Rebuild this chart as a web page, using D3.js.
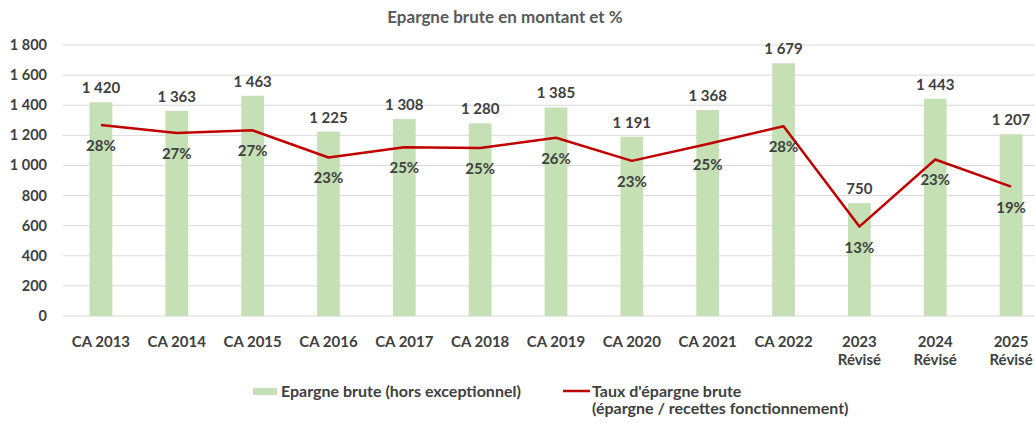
<!DOCTYPE html>
<html>
<head>
<meta charset="utf-8">
<script src="https://cdn.jsdelivr.net/npm/d3@7"></script>
<style>
  body { margin: 0; background: #fff; }
  svg { display: block; font-family: Lato, "Open Sans", sans-serif; }
</style>
</head>
<body>
<svg id="chart" width="1035" height="423"></svg>
<script>
// categories and series
const categories = ["CA 2013", "CA 2014", "CA 2015", "CA 2016", "CA 2017", "CA 2018", "CA 2019",
    "CA 2020", "CA 2021", "CA 2022", "2023\nRévisé", "2024\nRévisé", "2025\nRévisé"];
const epargne = [1420, 1363, 1463, 1225, 1308, 1280, 1385, 1191, 1368, 1679, 750, 1443, 1207];
const taux = [28.2, 27.0, 27.4, 23.4, 24.9, 24.8, 26.3, 22.9, 25.4, 28.0, 13.2, 23.1, 19.1];
const yTicks = [0, 200, 400, 600, 800, 1000, 1200, 1400, 1600, 1800];

const svg = d3.select("#chart");
const textColor = "#404040";
const fr = d3.formatLocale({ decimal: ",", thousands: "\u00a0", grouping: [3], currency: ["", " €"] });
const fmt = fr.format(",d");

// plot area (the right edge runs past the picture like in the original)
const plotLeft = 63, plotRight = 1049, plotTop = 45, plotBottom = 316;

const x = d3.scaleBand().domain(categories).range([plotLeft, plotRight]).paddingInner(0.7).paddingOuter(0.35);
const y = d3.scaleLinear().domain([0, 1800]).range([plotBottom, plotTop]);
// hidden secondary axis for the rate
const y2 = d3.scaleLinear().domain([0, 40]).range([plotBottom, plotTop]);

// title
svg.append("text")
    .attr("x", 505).attr("y", 23)
    .attr("text-anchor", "middle")
    .attr("font-size", 17).attr("font-weight", "bold")
    .attr("fill", "#595959")
    .text("Epargne brute en montant et %");

// gridlines
svg.append("g")
    .selectAll("line")
    .data(yTicks)
    .join("line")
    .attr("x1", plotLeft).attr("x2", 1035)
    .attr("y1", d => y(d)).attr("y2", d => y(d))
    .attr("stroke", "#d9d9d9").attr("stroke-width", 1);

// y axis labels
svg.append("g")
    .selectAll("text")
    .data(yTicks)
    .join("text")
    .attr("x", 47).attr("y", d => y(d) + 5)
    .attr("text-anchor", "end")
    .attr("font-size", 14.5).attr("font-weight", "bold")
    .attr("fill", textColor)
    .text(d => fmt(d));

// bars
svg.append("g")
    .selectAll("rect")
    .data(epargne)
    .join("rect")
    .attr("x", (d, i) => x(categories[i]))
    .attr("width", x.bandwidth())
    .attr("y", d => y(d))
    .attr("height", d => plotBottom - y(d))
    .attr("fill", "#c5e0b4");

// bar value labels
svg.append("g")
    .selectAll("text")
    .data(epargne)
    .join("text")
    .attr("x", (d, i) => x(categories[i]) + x.bandwidth() / 2)
    .attr("y", d => y(d) - 9)
    .attr("text-anchor", "middle")
    .attr("font-size", 15).attr("font-weight", "bold")
    .attr("fill", textColor)
    .text(d => fmt(d));

// rate line
const line = d3.line()
    .x((d, i) => x(categories[i]) + x.bandwidth() / 2)
    .y(d => y2(d));

svg.append("path")
    .datum(taux)
    .attr("d", line)
    .attr("fill", "none")
    .attr("stroke", "#c00000")
    .attr("stroke-width", 2.5)
    .attr("stroke-linejoin", "round");

// rate labels
svg.append("g")
    .selectAll("text")
    .data(taux)
    .join("text")
    .attr("x", (d, i) => x(categories[i]) + x.bandwidth() / 2)
    .attr("y", d => y2(d) + 26)
    .attr("text-anchor", "middle")
    .attr("font-size", 15).attr("font-weight", "bold")
    .attr("fill", textColor)
    .text(d => Math.round(d) + "%");

// x axis labels
svg.append("g")
    .selectAll("text")
    .data(categories)
    .join("text")
    .attr("x", d => x(d) + x.bandwidth() / 2)
    .attr("y", 347)
    .attr("text-anchor", "middle")
    .attr("font-size", 15).attr("font-weight", "bold")
    .attr("fill", textColor)
    .selectAll("tspan")
    .data(d => d.split("\n"))
    .join("tspan")
    .attr("x", function () { return d3.select(this.parentNode).attr("x"); })
    .attr("dy", (d, i) => i === 0 ? 0 : 18)
    .text(d => d);

// legend
const legend = svg.append("g").attr("font-size", 16).attr("font-weight", "bold").attr("fill", textColor);
legend.append("rect").attr("x", 253).attr("y", 388).attr("width", 24).attr("height", 7).attr("fill", "#c5e0b4");
legend.append("text").attr("x", 281).attr("y", 396.5).text("Epargne brute (hors exceptionnel)");
legend.append("line").attr("x1", 563).attr("x2", 590).attr("y1", 391).attr("y2", 391)
    .attr("stroke", "#c00000").attr("stroke-width", 2.5);
legend.append("text").attr("x", 592).attr("y", 396.5).text("Taux d'épargne brute");
legend.append("text").attr("x", 592).attr("y", 414).text("(épargne / recettes fonctionnement)");
</script>
</body>
</html>
